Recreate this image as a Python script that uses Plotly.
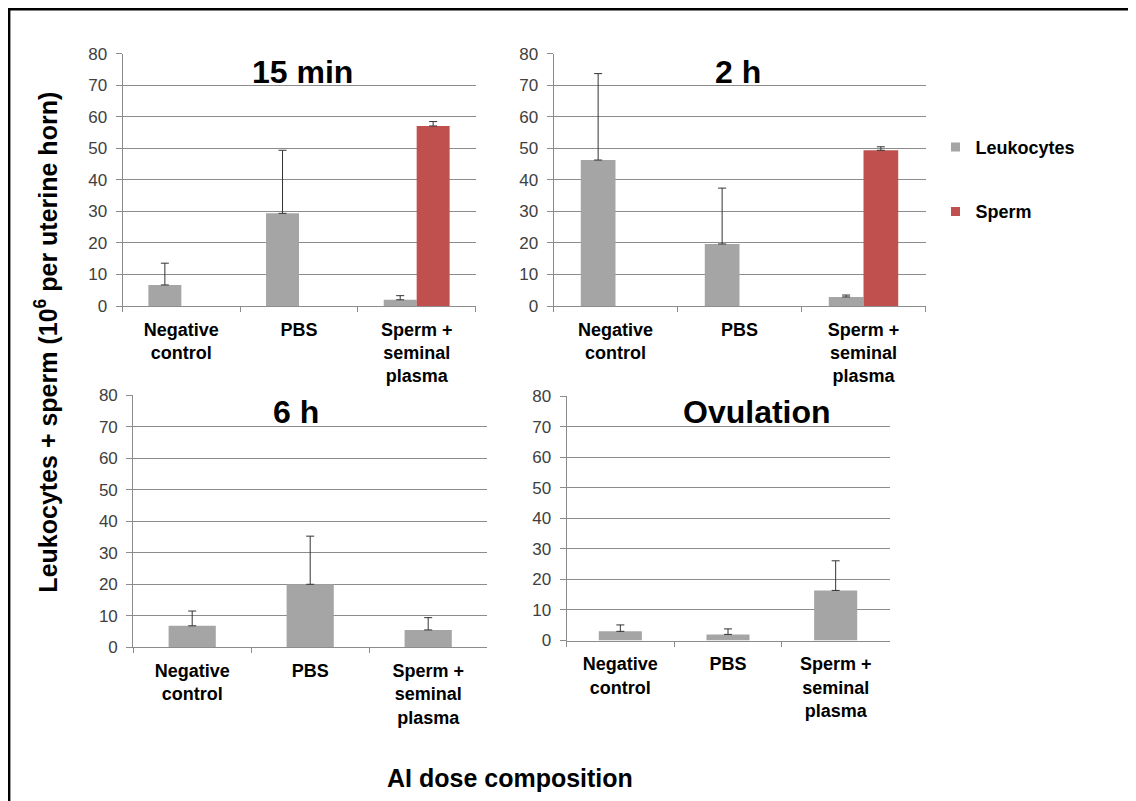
import plotly.graph_objects as go

categories = ["Negative<br>control", "PBS", "Sperm +<br>seminal<br>plasma"]
panel_titles = ["15 min", "2 h", "6 h", "Ovulation"]

leuk_15min = [6.7, 29.4, 2.0]
leuk_15min_err = [6.9, 20.0, 1.3]
sperm_15min = [None, None, 57.1]
sperm_15min_err = [None, None, 1.4]

leuk_2h = [46.3, 19.7, 2.9]
leuk_2h_err = [27.4, 17.7, 0.6]
sperm_2h = [None, None, 49.4]
sperm_2h_err = [None, None, 1.1]

leuk_6h = [6.8, 20.0, 5.5]
leuk_6h_err = [4.7, 15.3, 3.9]

leuk_ov = [3.0, 2.0, 16.4]
leuk_ov_err = [2.1, 1.8, 9.7]

y_ticks = [0, 10, 20, 30, 40, 50, 60, 70, 80]

GRAY = "#a5a5a5"
RED = "#c0504d"
GRID = "#8c8c8c"
FONT = "Liberation Sans, Arial, sans-serif"
W, H = 1136, 801

# observed page placement compensation
OX, OY, SY = 7.5, 17.3, 0.975

fig = go.Figure()

def err(arr):
    return dict(type="data", array=arr, arrayminus=[0 if v is not None else None for v in arr],
                symmetric=False, color="#333333", thickness=1, width=4)

def add_bar(vals, errs, color, name, xa, ya, offset, width):
    fig.add_trace(go.Bar(x=categories, y=vals, error_y=err(errs), marker=dict(color=color, line=dict(width=0)),
                         name=name, showlegend=False, xaxis=xa, yaxis=ya, offset=offset, width=width))

add_bar(leuk_15min, leuk_15min_err, GRAY, "Leukocytes", "x", "y", -0.28, 0.28)
add_bar(sperm_15min, sperm_15min_err, RED, "Sperm", "x", "y", 0.0, 0.28)
add_bar(leuk_2h, leuk_2h_err, GRAY, "Leukocytes", "x2", "y2", -0.28, 0.28)
add_bar(sperm_2h, sperm_2h_err, RED, "Sperm", "x2", "y2", 0.0, 0.28)
add_bar(leuk_6h, leuk_6h_err, GRAY, "Leukocytes", "x3", "y3", -0.2, 0.4)
add_bar(leuk_ov, leuk_ov_err, GRAY, "Leukocytes", "x4", "y4", -0.2, 0.4)

# legend entries
for name, color, grp in [("Leukocytes", GRAY, "a"), ("Sperm", RED, "b")]:
    fig.add_trace(go.Scatter(x=[None], y=[None], mode="markers", name=name, legendgroup=grp,
                             marker=dict(symbol="square", size=9, color=color), xaxis="x", yaxis="y"))

def fx(x):
    return (x - OX) / W

def fy(y):
    return 1 - ((y - OY) / SY) / H

domains = [
    ([fx(122), fx(475)], [fy(306), fy(54)]),
    ([fx(553), fx(925)], [fy(306), fy(54)]),
    ([fx(132.7), fx(486.7)], [fy(646.7), fy(395.3)]),
    ([fx(566), fx(889)], [fy(640), fy(396)]),
]

layout = dict(
    width=W, height=H,
    margin=dict(l=0, r=0, t=0, b=0),
    paper_bgcolor="white", plot_bgcolor="white",
    barmode="overlay",
    font=dict(family=FONT, color="black"),
    showlegend=True,
    legend=dict(x=fx(935), y=fy(129), xanchor="left", yanchor="top",
                font=dict(size=18, family=FONT, color="black", weight="bold"),
                tracegroupgap=38, traceorder="grouped", bgcolor="rgba(0,0,0,0)"),
)

for i, (dx, dy) in enumerate(domains):
    s = "" if i == 0 else str(i + 1)
    layout["xaxis" + s] = dict(domain=dx, anchor="y" + s, type="category",
                              showline=True, linecolor=GRID, linewidth=1,
                              ticks="outside", tickson="boundaries", ticklen=5, tickcolor=GRID,
                              ticklabelstandoff=7,
                              showgrid=False, tickfont=dict(size=18, family=FONT, color="black", weight="bold"),
                              fixedrange=True)
    layout["yaxis" + s] = dict(domain=dy, anchor="x" + s, range=[0, 80], tickvals=y_ticks,
                              showline=True, linecolor=GRID, linewidth=1,
                              ticks="outside", ticklen=6, tickcolor=GRID, ticklabelstandoff=5,
                              showgrid=True, gridcolor=GRID, gridwidth=1, zeroline=False,
                              tickfont=dict(size=17, family=FONT, color="#404040"), fixedrange=True)

fig.update_layout(**layout)

title_pos = [(302, 72), (737, 72), (295, 412), (756, 412)]
for t, (x, y) in zip(panel_titles, title_pos):
    fig.add_annotation(text=t, x=fx(x), y=fy(y), xref="paper", yref="paper", showarrow=False,
                       xanchor="center", yanchor="middle",
                       font=dict(size=32, family=FONT, color="black", weight="bold"))

fig.add_annotation(text="Leukocytes + sperm (10<sup>6</sup> per uterine horn)", x=fx(46), y=fy(342),
                   xref="paper", yref="paper", showarrow=False, textangle=-90,
                   xanchor="center", yanchor="middle",
                   font=dict(size=25, family=FONT, color="black", weight="bold"))
fig.add_annotation(text="AI dose composition", x=fx(509), y=fy(777),
                   xref="paper", yref="paper", showarrow=False,
                   xanchor="center", yanchor="middle",
                   font=dict(size=25, family=FONT, color="black", weight="bold"))

fig.add_shape(type="rect", xref="paper", yref="paper", x0=1.2 / W, x1=1.02, y0=-0.02, y1=fy(9.5),
              line=dict(color="black", width=2.4), fillcolor="rgba(0,0,0,0)", layer="above")

fig.write_html("out.html")
